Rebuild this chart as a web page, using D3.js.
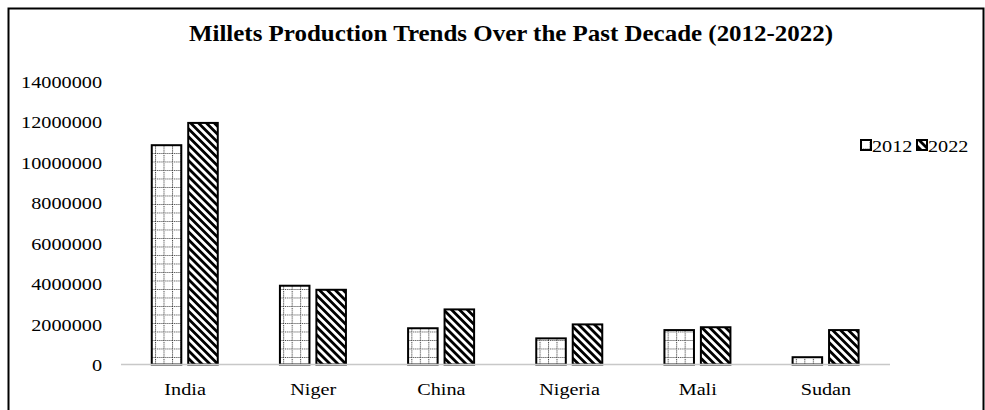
<!DOCTYPE html>
<html>
<head>
<meta charset="utf-8">
<script src="https://cdn.jsdelivr.net/npm/d3@7"></script>
<style>
  html, body { margin: 0; padding: 0; background: #fff; }
  svg { display: block; }
  text { font-family: "Liberation Serif", "Times New Roman", serif; fill: #000; }
</style>
</head>
<body>
<div id="chart"></div>
<script>
// Millet production (tonnes) by country, 2012 vs 2022
const countries = ["India", "Niger", "China", "Nigeria", "Mali", "Sudan"];
const years = ["2012", "2022"];
const values2012 = [10830000, 3890000, 1790000, 1290000, 1700000, 360000];
const values2022 = [11930000, 3690000, 2720000, 1980000, 1840000, 1700000];
const yTicks = [0, 2000000, 4000000, 6000000, 8000000, 10000000, 12000000, 14000000];
const titleText = "Millets Production Trends Over the Past Decade (2012-2022)";

const W = 985, H = 410;
const stretch = 1.15; // labels are drawn slightly wide
const margin = { left: 121, right: 95, top: 81, bottom: 45.5 };
const plotBottom = H - margin.bottom;

const svg = d3.select("#chart").append("svg")
  .attr("width", W).attr("height", H);

const defs = svg.append("defs");

// Dotted grid fill for 2012
const gs = 8.5;
const grid = defs.append("pattern")
  .attr("id", "fill2012")
  .attr("patternUnits", "userSpaceOnUse")
  .attr("width", gs).attr("height", gs);
grid.append("rect").attr("width", gs).attr("height", gs).attr("fill", "#fff");
grid.append("line").attr("x1", 0.5).attr("x2", 0.5).attr("y1", 0).attr("y2", gs)
  .attr("stroke", "#333").attr("stroke-width", 1).attr("stroke-dasharray", "1,1");
grid.append("line").attr("x1", 0).attr("x2", gs).attr("y1", 0.5).attr("y2", 0.5)
  .attr("stroke", "#333").attr("stroke-width", 1).attr("stroke-dasharray", "1,1");

// Wide downward diagonal stripes for 2022
const diag = defs.append("pattern")
  .attr("id", "fill2022")
  .attr("patternUnits", "userSpaceOnUse")
  .attr("width", 5.6).attr("height", 5.6)
  .attr("patternTransform", "rotate(-45)");
diag.append("rect").attr("width", 5.6).attr("height", 5.6).attr("fill", "#fff");
diag.append("rect").attr("x", 0).attr("width", 2.8).attr("height", 5.6).attr("fill", "#000");

const fills = { "2012": "url(#fill2012)", "2022": "url(#fill2022)" };

// Outer frame
svg.append("rect")
  .attr("x", 8.5).attr("y", 8.5)
  .attr("width", W - 10).attr("height", H + 20)
  .attr("fill", "none").attr("stroke", "#000").attr("stroke-width", 2);

// Scales
const x0 = d3.scaleBand().domain(countries)
  .range([margin.left, W - margin.right]).padding(0);
const x1 = d3.scaleBand().domain(years)
  .range([x0.bandwidth() * 0.24, x0.bandwidth() * 0.755]).paddingInner(0.19);
const y = d3.scaleLinear().domain([0, 14000000]).range([plotBottom, margin.top]);

const rows = countries.map((c, i) => ({ country: c, values: { "2012": values2012[i], "2022": values2022[i] } }));

// Bars
const groups = svg.append("g").selectAll("g")
  .data(rows).join("g")
  .attr("transform", d => `translate(${x0(d.country)},0)`);

groups.selectAll("rect")
  .data(d => years.map(yr => ({ year: yr, value: d.values[yr] })))
  .join("rect")
  .attr("x", d => x1(d.year))
  .attr("y", d => y(d.value))
  .attr("width", x1.bandwidth())
  .attr("height", d => plotBottom - y(d.value))
  .attr("fill", d => fills[d.year])
  .attr("stroke", "#000")
  .attr("stroke-width", 2);

// Category axis line
svg.append("line")
  .attr("x1", margin.left).attr("x2", W - margin.right)
  .attr("y1", plotBottom).attr("y2", plotBottom)
  .attr("stroke", "#c8c8c8").attr("stroke-width", 1.5);

// Y axis labels (no ticks, no line)
const yAxis = svg.append("g")
  .attr("transform", `translate(${margin.left - 19},0)`)
  .call(d3.axisLeft(y).tickValues(yTicks).tickSize(0).tickPadding(0).tickFormat(d3.format("d")));
yAxis.select(".domain").remove();
yAxis.selectAll("text")
  .attr("font-family", "Liberation Serif")
  .attr("font-size", 17.6)
  .attr("fill", "#000")
  .attr("dy", "0.35em")
  .attr("x", 0)
  .attr("text-anchor", "end")
  .attr("transform", `scale(${stretch},1)`);

// Category labels
const xAxis = svg.append("g")
  .attr("transform", `translate(0,${plotBottom})`)
  .call(d3.axisBottom(x0).tickSize(0).tickPadding(0));
xAxis.select(".domain").remove();
xAxis.selectAll("text")
  .attr("font-family", "Liberation Serif")
  .attr("font-size", 17.6)
  .attr("fill", "#000")
  .attr("dy", null)
  .attr("y", 0)
  .attr("transform", `translate(0,30) scale(${stretch},1)`);

// Title
svg.append("text")
  .attr("transform", `translate(511,41) scale(1.04,1)`)
  .attr("text-anchor", "middle")
  .attr("font-size", 24)
  .attr("font-weight", "bold")
  .text(titleText);

// Legend
const legend = svg.append("g").attr("transform", "translate(861,140)");
const legendItems = legend.selectAll("g").data(years).join("g")
  .attr("transform", (d, i) => `translate(${i * 56},0)`);
legendItems.append("rect")
  .attr("width", 10).attr("height", 10)
  .attr("fill", d => fills[d])
  .attr("stroke", "#000").attr("stroke-width", 2);
legendItems.append("text")
  .attr("transform", `translate(11,11.5) scale(${stretch},1)`)
  .attr("font-size", 17.6)
  .text(d => d);
</script>
</body>
</html>
